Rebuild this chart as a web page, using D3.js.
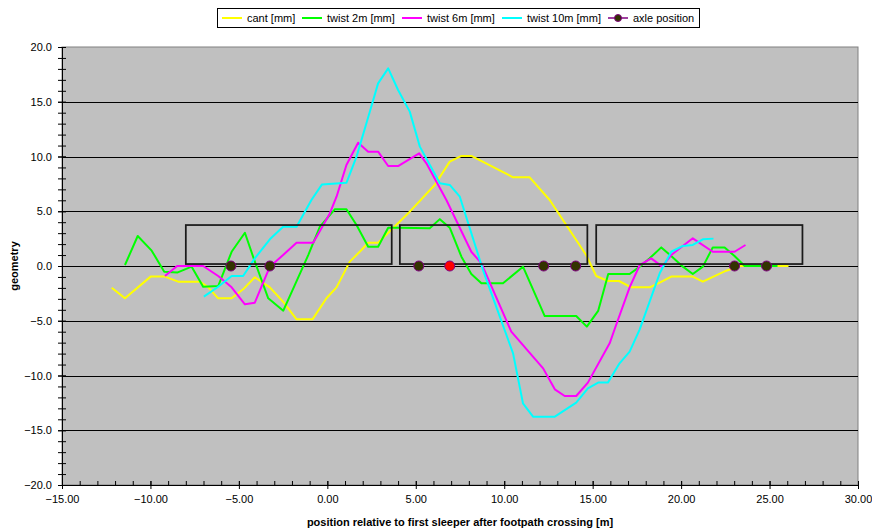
<!DOCTYPE html>
<html>
<head>
<meta charset="utf-8">
<script src="https://cdnjs.cloudflare.com/ajax/libs/d3/7.8.5/d3.min.js"></script>
<style>
	body { margin: 0; background: #fff; }
	svg { font-family: Arial, "Liberation Sans", sans-serif; }
	.tick text { font-size: 11px; fill: #000; }
	.axis-title { font-size: 11px; font-weight: bold; }
	.legend text { font-size: 11px; }
</style>
</head>
<body>
<div id="svg-div"></div>
<script>
// series values, [position m, value mm]
var cant = [[-12.19,-1.98],[-11.44,-2.95],[-9.99,-0.97],[-9.18,-0.97],[-8.43,-1.43],[-7.2,-1.43],[-6.73,-1.95],
	[-6.17,-2.95],[-5.41,-2.95],[-4.76,-2.13],[-4.1,-1.03],[-3.25,-1.95],[-2.5,-3.26],[-1.74,-4.87],[-0.84,-4.87],
	[-0.05,-2.95],[0.52,-1.95],[1.27,0.4],[1.93,1.46],[2.31,2.13],[2.87,2.13],[4.66,4.96],[6.07,7.4],[6.92,9.53],
	[7.58,10.05],[8.14,10.05],[10.5,8.1],[11.44,8.1],[12.57,6.03],[14.63,1.0],[15.2,-0.91],[15.86,-1.37],[16.49,-1.37],
	[17.18,-1.95],[18.22,-1.95],[18.79,-1.52],[19.44,-0.97],[20.66,-0.97],[21.23,-1.43],[22.55,-0.43],[23.3,0],[26.07,0]];

var twist2 = [[-11.44,0.09],[-10.72,2.74],[-9.93,1.4],[-9.22,-0.52],[-8.49,-0.6],[-7.67,-0.06],[-7.02,-1.89],
	[-6.17,-1.83],[-5.41,1.3],[-4.66,3.04],[-4.1,0.4],[-3.34,-2.95],[-2.49,-4.08],[-1.84,-1.74],[-1.08,1.0],
	[-0.42,3.59],[0.42,5.18],[1.08,5.18],[1.65,3.74],[2.31,1.76],[2.87,1.76],[3.44,3.5],[4.1,3.5],[5.79,3.44],
	[6.36,4.28],[6.92,3.5],[7.58,0.85],[8.14,-0.73],[8.71,-1.58],[9.93,-1.58],[11.06,-0.06],[12.29,-4.57],
	[14.07,-4.57],[14.67,-5.54],[15.31,-4.1],[15.88,-0.73],[17.09,-0.73],[17.66,-0.06],[18.22,0.7],[18.88,1.7],
	[19.44,0.91],[20.1,-0.06],[20.66,-0.73],[21.23,-0.06],[21.79,1.7],[22.46,1.7],[23.02,0.91],[23.59,0],[25.45,0]];

var twist6 = [[-9.18,-0.91],[-8.49,0],[-7.02,0],[-6.17,-0.91],[-5.41,-1.95],[-4.66,-3.5],[-4.1,-3.35],[-3.25,-0.06],
	[-2.5,1.0],[-1.74,2.13],[-0.8,2.13],[0.14,4.8],[0.52,6.33],[1.08,9.22],[1.74,11.26],[2.31,10.44],[2.87,10.44],
	[3.44,9.13],[4.0,9.13],[5.19,10.29],[5.6,9.38],[6.73,6.03],[8.14,1.3],[8.71,0.24],[10.4,-6.0],[12.2,-9.35],
	[12.86,-11.26],[13.42,-11.87],[14.07,-11.87],[14.73,-10.65],[15.96,-7.06],[16.24,-5.78],[17.09,-1.95],
	[17.66,0.09],[18.31,0.7],[18.93,-0.06],[19.44,1.0],[20.66,2.53],[21.79,1.3],[23.02,1.3],[23.64,1.92]];

var twist10 = [[-6.98,-2.8],[-6.17,-1.89],[-5.41,-0.91],[-4.76,-0.91],[-4.1,0.7],[-3.25,2.44],[-2.5,3.59],
	[-1.74,3.59],[-0.9,6.03],[-0.3,7.45],[1.08,7.6],[1.65,9.99],[2.21,13.03],[2.87,16.68],[3.44,18.05],[4.0,16.07],
	[4.66,14.1],[5.23,10.9],[6.36,7.55],[6.92,7.4],[7.49,6.33],[8.8,-0.37],[10.5,-7.98],[11.06,-12.54],
	[11.63,-13.76],[12.86,-13.76],[14.07,-12.48],[14.73,-11.17],[15.31,-10.65],[15.86,-10.65],[16.52,-8.89],
	[17.09,-7.82],[17.66,-5.78],[18.79,-0.67],[19.44,1.3],[20.1,1.83],[20.66,1.92],[21.23,2.44],[21.83,2.5]];

var axlePos = [-5.45, -3.25, 5.17, 6.92, 12.23, 14.04, 23.02, 24.83];
var axleHighlight = 6.92;

// carriage outlines [start, end, bottom, top]
var carriages = [[-8.0, 3.64, 0.18, 3.74], [4.1, 14.7, 0.18, 3.74], [15.2, 26.86, 0.18, 3.74]];

var xTicks = [-15, -10, -5, 0, 5, 10, 15, 20, 25, 30];
var yTicks = [-20, -15, -10, -5, 0, 5, 10, 15, 20];

var seriesNames = ["cant [mm]", "twist 2m [mm]", "twist 6m [mm]", "twist 10m [mm]"];
var seriesColors = ["#FFFF00", "#00FF00", "#FF00FF", "#00FFFF"];

/**
 *  Chart
 */
var chartProperties = {
	outerWidth: 872,
	outerHeight: 531,
	margin: { top: 47, right: 14, bottom: 46, left: 62 }
};
chartProperties.width = chartProperties.outerWidth - chartProperties.margin.left - chartProperties.margin.right;
chartProperties.height = chartProperties.outerHeight - chartProperties.margin.top - chartProperties.margin.bottom;

var root = d3.select("#svg-div")
	.append("svg")
	.attr("width", chartProperties.outerWidth)
	.attr("height", chartProperties.outerHeight);

var svg = root.append("g")
	.attr("transform", "translate(" + chartProperties.margin.left + "," + chartProperties.margin.top + ")");

var xScale = d3.scaleLinear().domain([-15, 30]).range([0, chartProperties.width]);
var yScale = d3.scaleLinear().domain([-20, 20]).range([chartProperties.height, 0]);

// plot background
svg.append("rect")
	.attr("width", chartProperties.width)
	.attr("height", chartProperties.height)
	.attr("fill", "#C0C0C0")
	.attr("stroke", "#808080")
	.attr("stroke-width", 1);

// gridlines
svg.append("g")
	.selectAll("line")
	.data(yTicks.filter(function(d) { return d > -20 && d < 20; }))
	.enter()
	.append("line")
	.attr("x1", 0)
	.attr("x2", chartProperties.width)
	.attr("y1", function(d) { return Math.round(yScale(d)) + 0.5; })
	.attr("y2", function(d) { return Math.round(yScale(d)) + 0.5; })
	.attr("stroke", "#000")
	.attr("stroke-width", 1);

// minor ticks
var yMinor = d3.range(-20, 20.5, 1);
var xMinor = d3.range(-15, 30.5, 1);

var yAxisG = svg.append("g")
	.call(d3.axisLeft(yScale).tickValues(yMinor).tickSize(4).tickFormat(""));
yAxisG.selectAll(".tick line").attr("x1", -4).attr("x2", 4);
yAxisG.select(".domain").remove();

var xAxisG = svg.append("g")
	.attr("transform", "translate(0," + chartProperties.height + ")")
	.call(d3.axisBottom(xScale).tickValues(xMinor).tickSize(-4).tickFormat(""));
xAxisG.select(".domain").remove();

// major axes
var yAxis = svg.append("g")
	.call(d3.axisLeft(yScale).tickValues(yTicks).tickSize(4).tickPadding(6).tickFormat(d3.format(".1f")));
yAxis.selectAll(".tick line").attr("x1", -4).attr("x2", 4);
yAxis.select(".domain").attr("d", "M0.5,0V" + chartProperties.height);

var xAxis = svg.append("g")
	.attr("transform", "translate(0," + chartProperties.height + ")")
	.call(d3.axisBottom(xScale).tickValues(xTicks).tickSize(4).tickPadding(6).tickFormat(d3.format(".2f")));
xAxis.selectAll(".tick line").attr("y1", -4).attr("y2", 4);
xAxis.select(".domain").attr("d", "M0,0.5H" + chartProperties.width);

// lines
var line = d3.line()
	.x(function(d) { return xScale(d[0]); })
	.y(function(d) { return yScale(d[1]); });

[cant, twist2, twist6, twist10].forEach(function(series, i) {
	svg.append("path")
		.datum(series)
		.attr("d", line)
		.attr("fill", "none")
		.attr("stroke", seriesColors[i])
		.attr("stroke-width", 2)
		.attr("stroke-linejoin", "round");
});

// carriages
svg.selectAll(".carriage")
	.data(carriages)
	.enter()
	.append("rect")
	.attr("class", "carriage")
	.attr("x", function(d) { return xScale(d[0]); })
	.attr("y", function(d) { return yScale(d[3]); })
	.attr("width", function(d) { return xScale(d[1]) - xScale(d[0]); })
	.attr("height", function(d) { return yScale(d[2]) - yScale(d[3]); })
	.attr("fill", "none")
	.attr("stroke", "#1a1a1a")
	.attr("stroke-width", 1.75);

// axle positions
svg.selectAll(".axle")
	.data(axlePos)
	.enter()
	.append("circle")
	.attr("class", "axle")
	.attr("cx", function(d) { return xScale(d); })
	.attr("cy", yScale(0))
	.attr("r", 5)
	.attr("fill", function(d) { return d === axleHighlight ? "#FF0000" : "#333300"; })
	.attr("stroke", "#800080")
	.attr("stroke-width", 1);

// axis titles
root.append("text")
	.attr("class", "axis-title")
	.attr("x", 460)
	.attr("y", 526)
	.attr("text-anchor", "middle")
	.text("position relative to first sleeper after footpath crossing [m]");

root.append("text")
	.attr("class", "axis-title")
	.attr("transform", "translate(18,266) rotate(-90)")
	.attr("text-anchor", "middle")
	.text("geometry");

// legend
var legend = root.append("g").attr("class", "legend");
legend.append("rect")
	.attr("x", 217.5).attr("y", 8.5)
	.attr("width", 482).attr("height", 19)
	.attr("fill", "#fff").attr("stroke", "#000");

var legendItems = seriesNames.concat(["axle position"]);
var legendX = [222, 302, 402, 502, 608];
legendItems.forEach(function(name, i) {
	var g = legend.append("g").attr("transform", "translate(" + legendX[i] + ",18)");
	g.append("line")
		.attr("x1", 0).attr("x2", 20)
		.attr("stroke", i < 4 ? seriesColors[i] : "#800080")
		.attr("stroke-width", i < 4 ? 2 : 1.5);
	if (i === 4) {
		g.append("circle").attr("cx", 10).attr("r", 3.5)
			.attr("fill", "#333300").attr("stroke", "#800080");
	}
	g.append("text")
		.attr("x", 25)
		.attr("dy", "0.35em")
		.text(name);
});
</script>
</body>
</html>
